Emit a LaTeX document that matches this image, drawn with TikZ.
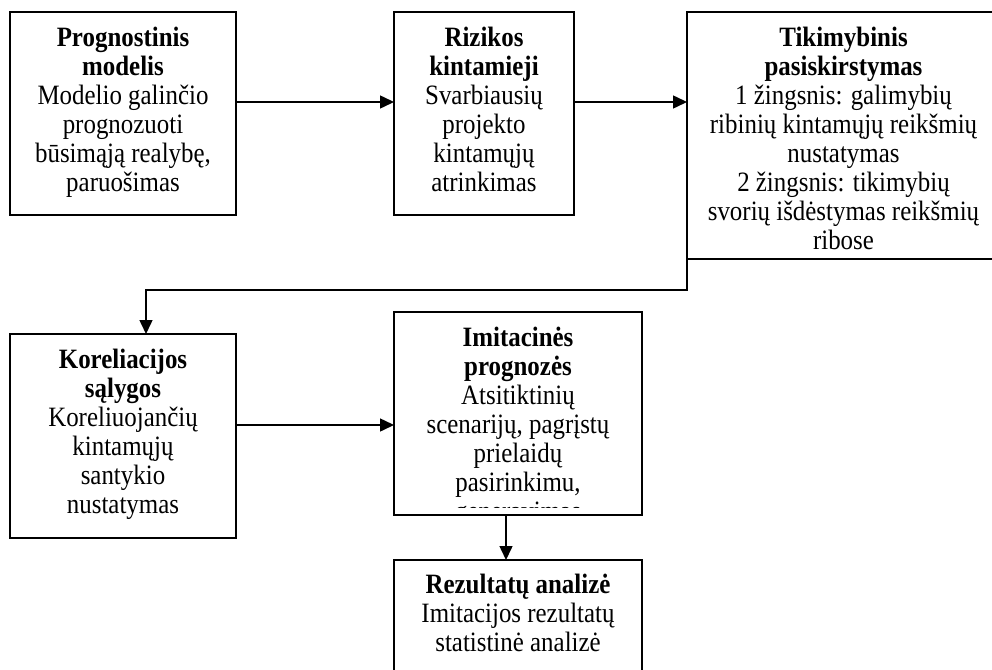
\documentclass[tikz,border=0pt]{standalone}
\usepackage{fontspec}
\setmainfont[FakeStretch=0.89]{Liberation Serif}
\usetikzlibrary{arrows.meta}
\begin{document}
\begin{tikzpicture}[x=1pt,y=-1pt,
  box/.style={draw, line width=2pt, inner sep=0pt, outer sep=0pt},
  txt/.style={align=center, inner sep=0pt, anchor=north, font=\fontsize{28}{29}\selectfont},
  arr/.style={line width=1.5pt, -{Triangle[length=14pt,width=13pt]}}]
\clip (0,0) rectangle (992,669);
\fill[white] (0,0) rectangle (992,669);
% boxes
\node[box, minimum width=226pt, minimum height=203pt] (b1) at (123,113.5) {};
\node[box, minimum width=180pt, minimum height=203pt] (b2) at (484,113.5) {};
\node[box, minimum width=313pt, minimum height=247pt] (b3) at (843.5,135.5) {};
\node[box, minimum width=226pt, minimum height=204pt] (b4) at (123,436) {};
\node[box, minimum width=248pt, minimum height=203pt] (b5) at (518,413.5) {};
\node[box, minimum width=248pt, minimum height=140pt] (b6) at (518,630) {};
% texts
\node[txt] (t1) at (123,25.5) {\strut\textbf{Prognostinis}\\\textbf{modelis}\\Modelio galinčio\\prognozuoti\\būsimąją realybę,\\paruošimas};
\node[txt] (t2) at (484,25.5) {\strut\textbf{Rizikos}\\\textbf{kintamieji}\\Svarbiausių\\projekto\\kintamųjų\\atrinkimas};
\node[txt] (t3) at (843.5,25.5) {\strut\textbf{Tikimybinis}\\\textbf{pasiskirstymas}\\1 žingsnis: galimybių\\ribinių kintamųjų reikšmių\\nustatymas\\2 žingsnis: tikimybių\\svorių išdėstymas reikšmių\\ribose};
\node[txt] (t4) at (123,347.5) {\strut\textbf{Koreliacijos}\\\textbf{sąlygos}\\Koreliuojančių\\kintamųjų\\santykio\\nustatymas};
\begin{scope}
\clip (396,313) rectangle (640,507);
\node[txt] (t5) at (518,325.5) {\strut\textbf{Imitacinės}\\\textbf{prognozės}\\Atsitiktinių\\scenarijų, pagrįstų\\prielaidų\\pasirinkimu,\\generavimas};
\end{scope}
\node[txt] (t6) at (518,572.5) {\strut\textbf{Rezultatų analizė}\\Imitacijos rezultatų\\statistinė analizė};
% connectors
\draw[arr] ([yshift=11.5pt]b1.east) -- ([yshift=11.5pt]b2.west);
\draw[arr] ([yshift=11.5pt]b2.east) -- ([yshift=33.5pt]b3.west);
\draw[arr] (b3.south west) -- ++(0,31) -| ([xshift=23pt]b4.north);
\draw[arr] ([yshift=11pt]b4.east) -- ([yshift=-11.5pt]b5.west);
\draw[arr] ([xshift=-12pt]b5.south) -- ([xshift=-12pt]b6.north);
\end{tikzpicture}
\end{document}
